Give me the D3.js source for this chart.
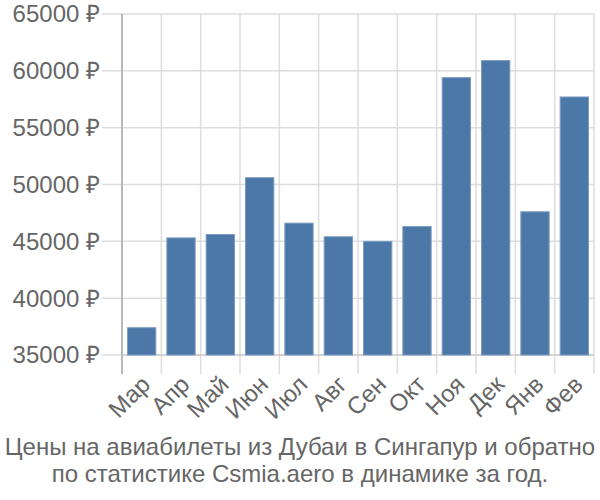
<!DOCTYPE html>
<html><head><meta charset="utf-8">
<script src="https://cdn.jsdelivr.net/npm/d3@7"></script>
<style>body{margin:0;background:#fff}svg text{font-family:"Liberation Sans",Arial,sans-serif}</style>
</head><body><svg id="c" width="600" height="500"></svg>
<script>
const months = ["Мар","Апр","Май","Июн","Июл","Авг","Сен","Окт","Ноя","Дек","Янв","Фев"];
const prices = [37400,45300,45600,50600,46600,45400,45000,46300,59400,60900,47600,57700];
const yTicks = [35000,40000,45000,50000,55000,60000,65000];
const titleLines = ["Цены на авиабилеты из Дубаи в Сингапур и обратно","по статистике Csmia.aero в динамике за год."];

const svg = d3.select("#c");
const L=122, R=594, T=14, B=355;
const x = d3.scaleBand().domain(months).range([L,R]).paddingInner(0.28).paddingOuter(0.14);
const xb = d3.scaleBand().domain(months).range([L,R]);
const y = d3.scaleLinear().domain([35000,65000]).range([B,T]);

svg.append("g").selectAll("line").data(yTicks).join("line")
  .attr("x1",102).attr("x2",R).attr("y1",d=>y(d)).attr("y2",d=>y(d))
  .attr("stroke","#ddd").attr("stroke-width",1.5);
const vx = months.map(m=>xb(m)).concat([R]);
svg.append("g").selectAll("line").data(vx).join("line")
  .attr("x1",d=>d).attr("x2",d=>d).attr("y1",T).attr("y2",374)
  .attr("stroke","#ddd").attr("stroke-width",1.5);
svg.append("line").attr("x1",L).attr("x2",L).attr("y1",T).attr("y2",374).attr("stroke","#aaa").attr("stroke-width",1.5);
svg.append("line").attr("x1",L).attr("x2",R).attr("y1",B).attr("y2",B).attr("stroke","#ccc").attr("stroke-width",1.5);

svg.append("g").selectAll("rect").data(prices).join("rect")
  .attr("x",(d,i)=>x(months[i])).attr("width",x.bandwidth())
  .attr("y",d=>y(d)).attr("height",d=>B-y(d))
  .attr("fill","#4c78a8").attr("stroke","#7b9cc4").attr("stroke-width",1);

svg.append("g").selectAll("text").data(yTicks).join("text")
  .attr("x",100).attr("y",d=>y(d)).attr("dy","0.35em").attr("text-anchor","end")
  .attr("font-size",24).attr("fill","#666").text(d=>d+" ₽");

svg.append("g").selectAll("text").data(months).join("text")
  .attr("transform",d=>`translate(${xb(d)+xb.bandwidth()/2+4},${380}) rotate(-45)`)
  .attr("text-anchor","end").attr("dy","0.35em")
  .attr("font-size",24).attr("fill","#666").text(d=>d);

svg.append("g").selectAll("text").data(titleLines).join("text")
  .attr("x",300).attr("y",(d,i)=>455+i*27).attr("text-anchor","middle")
  .attr("font-size",24).attr("fill","#666").text(d=>d);
</script></body></html>
